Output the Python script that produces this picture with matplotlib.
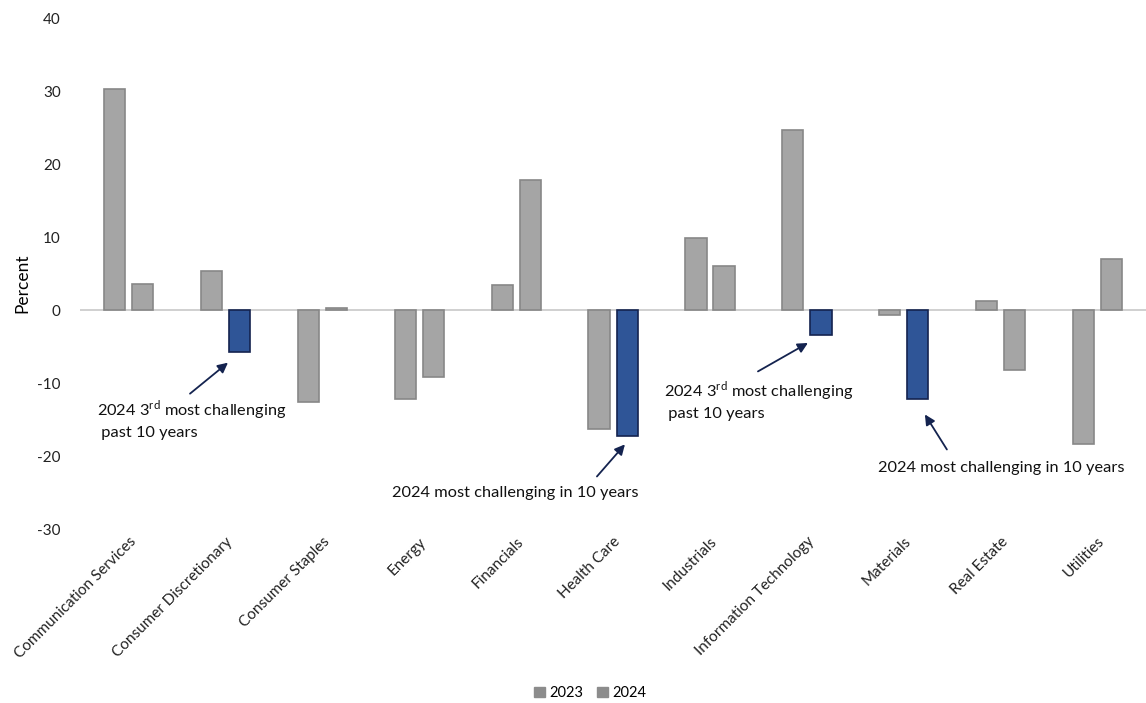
import numpy as np
import matplotlib.pyplot as plt
from matplotlib.patches import Patch

plt.rcParams['font.family'] = ['Lato', 'DejaVu Sans']
plt.rcParams['mathtext.fontset'] = 'custom'
plt.rcParams['mathtext.rm'] = 'Lato'
plt.rcParams['axes.unicode_minus'] = False

sectors = ["Communication Services", "Consumer Discretionary", "Consumer Staples",
           "Energy", "Financials", "Health Care", "Industrials",
           "Information Technology", "Materials", "Real Estate", "Utilities"]
y2023 = [30.3, 5.3, -12.6, -12.2, 3.4, -16.3, 9.9, 24.7, -0.7, 1.2, -18.4]
y2024 = [3.6, -5.8, 0.3, -9.2, 17.9, -17.3, 6.0, -3.4, -12.2, -8.2, 7.0]
# 2024 bars that get highlighted in blue
highlight = ["Consumer Discretionary", "Health Care", "Information Technology", "Materials"]

note_3rd = "2024 3$^{\\rm rd}$ most challenging\n past 10 years"
note_most = "2024 most challenging in 10 years"

gray = "#a5a5a5"
gray_edge = "#878787"
blue = "#2f5597"
blue_edge = "#14234f"

fig = plt.figure(figsize=(11.46, 7.03), dpi=100)
ax = fig.add_axes([0.07, 0.2475, 0.93, 0.7265])

x = np.arange(len(sectors))
w = 0.22
off = 0.145
ax.bar(x - off, y2023, w, color=gray, edgecolor=gray_edge, linewidth=1.2, zorder=3)
c24 = [blue if s in highlight else gray for s in sectors]
e24 = [blue_edge if s in highlight else gray_edge for s in sectors]
ax.bar(x + off, y2024, w, color=c24, edgecolor=e24, linewidth=1.2, zorder=3)

ax.axhline(0, color="#c8c8c8", linewidth=1.2, zorder=2)
ax.set_xlim(-0.5, len(sectors) - 0.5)
ax.set_ylim(-30, 40)
ax.set_yticks(range(-30, 41, 10))
ax.tick_params(axis="y", length=0, labelsize=11, pad=14, colors="#222222")
ax.tick_params(axis="x", length=0, pad=4)
ax.set_xticks(x)
ax.set_xticklabels(sectors, rotation=45, ha="right", rotation_mode="anchor",
                   fontsize=11, color="#222222")
for s in ax.spines.values():
    s.set_visible(False)
fig.text(22 / 1146, 1 - 283 / 703, "Percent", rotation=90, fontsize=12.5,
         ha="center", va="center")

arrow = dict(arrowstyle="-|>", color="#14234f", lw=1.3, mutation_scale=15,
             shrinkA=0, shrinkB=0)
# arrows: (tail, head) in data coordinates
ax.annotate("", xy=(1.025, -7.2), xytext=(0.633, -11.45), arrowprops=arrow, zorder=5)
ax.annotate("", xy=(5.122, -18.4), xytext=(4.833, -22.8), arrowprops=arrow, zorder=5)
ax.annotate("", xy=(7.011, -4.5), xytext=(6.495, -8.4), arrowprops=arrow, zorder=5)
ax.annotate("", xy=(8.218, -14.3), xytext=(8.445, -19.1), arrowprops=arrow, zorder=5)

tkw = dict(fontsize=11.8, va="center", color="#111111", linespacing=1.35, zorder=5)
ax.text(-0.327, -14.9, note_3rd, ha="left", **tkw)
ax.text(3.986, -25.1, note_most, ha="center", **tkw)
ax.text(5.525, -12.3, note_3rd, ha="left", **tkw)
ax.text(7.733, -21.6, note_most, ha="left", **tkw)

handles = [Patch(facecolor="#8c8c8c", edgecolor="#8c8c8c"),
           Patch(facecolor="#8c8c8c", edgecolor="#8c8c8c")]
fig.legend(handles, ["2023", "2024"], loc="center", bbox_to_anchor=(0.515, 0.014),
           ncol=2, frameon=False, fontsize=10.5, handlelength=0.7, handleheight=0.7,
           handletextpad=0.3, columnspacing=1.0)

fig.savefig("out.png", dpi=100)
